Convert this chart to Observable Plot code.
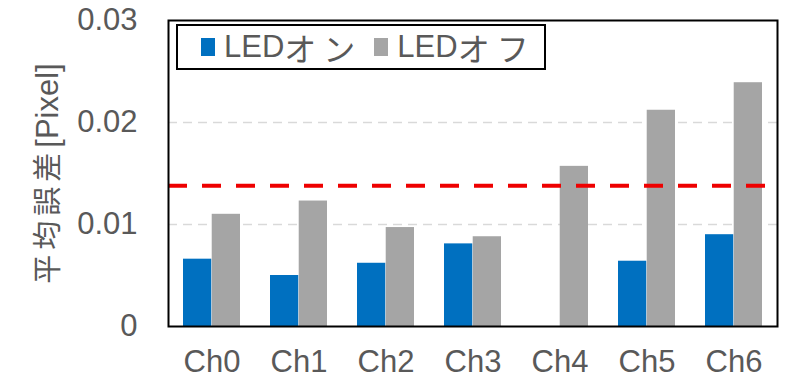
<!DOCTYPE html>
<html>
<head>
<meta charset="utf-8">
<script src="https://cdn.jsdelivr.net/npm/d3@7"></script>
<script src="https://cdn.jsdelivr.net/npm/@observablehq/plot@0.6"></script>
<style>
  html, body { margin: 0; padding: 0; background: #fff; }
  #wrap { position: relative; width: 800px; height: 379px; font-family: "Liberation Sans", Arial, "Noto Sans CJK JP", sans-serif; color: #595959; }
  #legend { position: absolute; left: 176px; top: 24px; width: 366px; height: 42px; border: 2px solid #000; background: #fff; display: flex; align-items: center; font-size: 31px; box-sizing: content-box; }
  .item { display: flex; align-items: center; }
  .sw { width: 14px; height: 18px; display: inline-block; margin-right: 9px; }
  .cjk { letter-spacing: 7px; font-size: 32px; }
</style>
</head>
<body>
<div id="wrap"><div id="chart"></div><div id="legend"></div></div>
<script>
const channels = ["Ch0", "Ch1", "Ch2", "Ch3", "Ch4", "Ch5", "Ch6"];
const seriesNames = [["LED", "オン"], ["LED", "オフ"]];
const seriesColors = ["#0070C0", "#A5A5A5"];
const ledOn  = [0.0066, 0.0050, 0.0062, 0.0081, 0.0, 0.0064, 0.0090];
const ledOff = [0.0110, 0.0123, 0.0097, 0.0088, 0.0157, 0.0212, 0.0239];
const threshold = [0.0138];
const yTicks = [0, 0.01, 0.02, 0.03];
const gridValues = [0.01, 0.02];
const yLabelParts = ["平均誤差", "[Pixel]"];
const yLabel = yLabelParts.join("");

const W = 800, H = 379;
const mL = 168, mR = 23, mT = 20, mB = 53;
const pIn = 0.34, pOut = 0.17;
const step = (W - mL - mR) / (channels.length - pIn + 2 * pOut);
const half = step * (1 - pIn) / 2;

const onData = channels.map((c, i) => ({channel: c, value: ledOn[i]}));
const offData = channels.map((c, i) => ({channel: c, value: ledOff[i]}));

const chart = Plot.plot({
  width: W,
  height: H,
  marginLeft: mL,
  marginRight: mR,
  marginTop: mT,
  marginBottom: mB,
  style: {fontSize: "31px", fontFamily: "'Liberation Sans', Arial, 'Noto Sans CJK JP', sans-serif", color: "#595959", background: "#fff"},
  x: {type: "band", domain: channels, paddingInner: pIn, paddingOuter: pOut, tickSize: 0, tickPadding: 23, label: null},
  y: {domain: [0, 0.03], ticks: yTicks, tickFormat: d => d === 0 ? "0" : d.toFixed(2), tickSize: 0, tickPadding: 31, label: null},
  marks: [
    Plot.ruleY(gridValues, {stroke: "#d9d9d9", strokeWidth: 1.5, strokeDasharray: "9,6"}),
    Plot.barY(onData, {x: "channel", y: "value", fill: seriesColors[0], insetRight: half}),
    Plot.barY(offData, {x: "channel", y: "value", fill: seriesColors[1], insetLeft: half}),
    Plot.ruleY(threshold, {stroke: "#ee0000", strokeWidth: 4, strokeDasharray: "19,15"}),
    Plot.frame({stroke: "#000", strokeWidth: 2}),
    Plot.text([yLabel], {frameAnchor: "left", textAnchor: "middle", rotate: -90, dx: -120, fontSize: 29, fill: "#595959"})
  ]
});
document.getElementById("chart").appendChild(chart);

// split the y label into CJK and Latin runs so the CJK run can be spaced like the original
d3.select(chart).selectAll("text").filter(function() { return this.textContent === yLabel; })
  .each(function() {
    const t = d3.select(this);
    t.text(null);
    t.append("tspan").attr("letter-spacing", "5px").text(yLabelParts[0]);
    t.append("tspan").attr("font-size", "31px").text(yLabelParts[1]);
  });

const legend = document.getElementById("legend");
seriesNames.forEach((parts, i) => {
  const it = document.createElement("div");
  it.className = "item";
  it.style.marginLeft = i === 0 ? "23px" : "12px";
  const sw = document.createElement("span");
  sw.className = "sw";
  sw.style.background = seriesColors[i];
  const a = document.createElement("span");
  a.textContent = parts[0];
  const b = document.createElement("span");
  b.className = "cjk";
  b.textContent = parts[1];
  it.appendChild(sw);
  it.appendChild(a);
  it.appendChild(b);
  legend.appendChild(it);
});
</script>
</body>
</html>
